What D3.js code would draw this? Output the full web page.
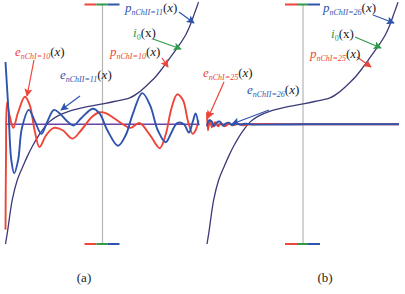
<!DOCTYPE html>
<html>
<head>
<meta charset="utf-8">
<script src="https://cdn.jsdelivr.net/npm/d3@7"></script>
<style>
  html, body { margin: 0; padding: 0; background: #fff; }
  svg { display: block; }
</style>
</head>
<body>
<div id="chart"></div>
<script>
// target curve i0(x) (the p approximations overlap it), shared by both panels
var pCurve = [[-1, -1], [-0.98, -0.9], [-0.93, -0.63], [-0.88, -0.47], [-0.82, -0.35], [-0.77, -0.26],
  [-0.72, -0.18], [-0.67, -0.11], [-0.62, -0.05], [-0.55, 0.02], [-0.46, 0.07], [-0.34, 0.11],
  [-0.19, 0.14], [0, 0.17], [0.12, 0.19], [0.28, 0.22], [0.38, 0.27], [0.45, 0.32], [0.54, 0.39],
  [0.62, 0.47], [0.71, 0.57], [0.79, 0.66], [0.86, 0.75], [0.9, 0.82], [0.95, 0.93], [0.99, 1.02]];

// panel (a) errors
var eChI10 = [[-1, -0.88], [-0.995, -0.3], [-0.985, 0.18], [-0.96, 0.08], [-0.92, -0.03], [-0.87, 0.1],
  [-0.8, 0.23], [-0.75, 0.16], [-0.7, -0.05], [-0.65, -0.19], [-0.58, -0.09], [-0.5, -0.03],
  [-0.41, -0.05], [-0.31, -0.12], [-0.22, -0.05], [-0.11, 0.06], [-0.03, 0.1], [0.04, 0.09],
  [0.12, 0.05], [0.21, 0], [0.29, -0.03], [0.38, 0.01], [0.49, -0.09], [0.59, -0.2], [0.65, -0.09],
  [0.71, 0.13], [0.77, 0.25], [0.83, 0.2], [0.88, 0.03], [0.93, -0.08], [0.96, -0.05], [0.99, 0.03]];
var eChII11 = [[-1, 0.52], [-0.97, 0.12], [-0.94, -0.3], [-0.91, -0.41], [-0.87, -0.3], [-0.83, -0.03],
  [-0.76, 0.12], [-0.7, 0.03], [-0.63, -0.08], [-0.57, 0.02], [-0.5, 0.12], [-0.44, 0.09],
  [-0.37, 0.03], [-0.3, -0.01], [-0.22, 0.05], [-0.1, 0.13], [-0.03, 0.09], [0.05, -0.05],
  [0.16, -0.18], [0.24, -0.09], [0.31, 0.08], [0.41, 0.26], [0.49, 0.16], [0.57, -0.05],
  [0.65, -0.15], [0.71, -0.07], [0.77, 0.01], [0.84, 0], [0.89, -0.07], [0.93, 0.02], [0.96, 0.09], [0.99, -0.01]];

// panel (b) errors
var eChI25 = [[-1, 0.1], [-0.99, -0.05], [-0.97, 0.033], [-0.948, -0.025], [-0.917, 0.017], [-0.885, -0.017],
  [-0.854, 0.008], [-0.813, -0.017], [-0.771, 0.004], [-0.729, -0.008], [-0.677, 0.004], [-0.625, -0.008],
  [-0.55, 0], [0, 0], [1, 0]];
var eChII26 = [[-1, -0.017], [-0.979, 0.033], [-0.953, 0.025], [-0.927, -0.017], [-0.896, 0.017], [-0.865, 0.021],
  [-0.833, -0.013], [-0.802, 0.008], [-0.771, 0.013], [-0.74, -0.008], [-0.698, 0.008], [-0.656, -0.004],
  [-0.604, 0.004], [-0.53, -0.002], [0, 0], [1, 0]];

var subsA = ["nChII=11", "nChI=10", "nChI=10", "nChII=11"];
var subsB = ["nChII=26", "nChI=25", "nChI=25", "nChII=26"];
var captions = ["(a)", "(b)"];

var W = 405, H = 294;
var RED = "#ee4538", BLUE = "#2f54ad", GREEN = "#2e9a4c", PURPLE = "#3d3a78", ZERO = "#6a45a8";

var svg = d3.select("#chart").append("svg").attr("width", W).attr("height", H);

var defs = svg.append("defs");
[["red", RED], ["blue", BLUE], ["green", GREEN]].forEach(function(c) {
  defs.append("marker")
      .attr("id", "arr-" + c[0])
      .attr("viewBox", "0 0 10 10")
      .attr("refX", 9).attr("refY", 5)
      .attr("markerWidth", 11).attr("markerHeight", 8)
      .attr("markerUnits", "userSpaceOnUse")
      .attr("orient", "auto")
    .append("path")
      .attr("d", "M0,0 L10,5 L0,10 L2,5 Z")
      .attr("fill", c[1]);
});

var y = d3.scaleLinear().domain([-1, 1]).range([244, 4.5]);

var panels = [
  { x: d3.scaleLinear().domain([-1, 1]).range([5.5, 199.5]), errs: [[eChI10, RED], [eChII11, BLUE]], subs: subsA,
    // label anchors and arrows in pixels
    labels: [[125, 12], [110, 56], [15, 56], [60, 79]], i0: [133, 37],
    arrows: [[[179, 12], [194, 23], "blue"], [[153, 39], [181, 49], "green"], [[162, 58], [168, 67], "red"],
             [[34, 60], [27, 96], "red"], [[80, 96], [61, 110], "blue"]],
    cap: [84, 282] },
  { x: d3.scaleLinear().domain([-1, 1]).range([207, 399]), errs: [[eChI25, RED], [eChII26, BLUE]], subs: subsB,
    labels: [[323, 12], [310, 58], [203, 77], [247, 94]], i0: [331, 38],
    arrows: [[[373, 15], [394, 23], "blue"], [[355, 37], [381, 48], "green"], [[357, 57], [371, 67], "red"],
             [[224, 82], [208, 118], "red"], [[269, 110], [232, 124], "blue"]],
    cap: [325, 282] }
];

var serif = "'Liberation Serif', 'DejaVu Serif', serif";

panels.forEach(function(p, pi) {
  var x = p.x;
  var g = svg.append("g");
  var cx = x(0);

  // vertical axis line with tri-colour end markers
  g.append("line").attr("x1", cx).attr("x2", cx).attr("y1", y(1)).attr("y2", y(-1))
      .attr("stroke", "#b5b5b5").attr("stroke-width", 1.2);
  [y(1), y(-1)].forEach(function(yy) {
    [[-18, -6, RED], [-6, 5, GREEN], [5, 17, BLUE]].forEach(function(s) {
      g.append("line").attr("x1", cx + s[0]).attr("x2", cx + s[1]).attr("y1", yy).attr("y2", yy)
          .attr("stroke", s[2]).attr("stroke-width", 2);
    });
  });

  var line = d3.line()
      .x(function(d) { return x(d[0]); })
      .y(function(d) { return y(d[1]); })
      .curve(d3.curveCatmullRom.alpha(0.5));

  // zero line
  g.append("line").attr("x1", x(-1)).attr("x2", x(1)).attr("y1", y(0)).attr("y2", y(0))
      .attr("stroke", ZERO).attr("stroke-width", 1.4);

  // target / approximations
  g.append("path").datum(pCurve).attr("d", line)
      .attr("fill", "none").attr("stroke", PURPLE).attr("stroke-width", 1.3);

  p.errs.forEach(function(e) {
    g.append("path").datum(e[0]).attr("d", line)
        .attr("fill", "none").attr("stroke", e[1]).attr("stroke-width", 1.9);
  });

  // arrows
  p.arrows.forEach(function(a) {
    var col = a[2] == "red" ? RED : a[2] == "blue" ? BLUE : GREEN;
    g.append("line").attr("x1", a[0][0]).attr("y1", a[0][1]).attr("x2", a[1][0]).attr("y2", a[1][1])
        .attr("stroke", col).attr("stroke-width", 1.2)
        .attr("marker-end", "url(#arr-" + a[2] + ")");
  });

  // labels: p (blue), p (red), e (red), e (blue)
  var letters = ["p", "p", "e", "e"];
  var cols = [BLUE, RED, RED, BLUE];
  p.labels.forEach(function(pos, i) {
    var t = g.append("text").attr("x", pos[0]).attr("y", pos[1])
        .attr("font-family", serif).attr("font-size", 13).attr("fill", cols[i]);
    t.append("tspan").attr("font-style", "italic").text(letters[i]);
    t.append("tspan").attr("font-style", "italic").attr("font-size", 8).attr("dy", 2.5).text(p.subs[i]);
    t.append("tspan").attr("dy", -2.5).attr("fill", "#222").text("(");
    t.append("tspan").attr("fill", "#222").attr("font-style", "italic").text("x");
    t.append("tspan").attr("fill", "#222").text(")");
  });

  var ti = g.append("text").attr("x", p.i0[0]).attr("y", p.i0[1])
      .attr("font-family", serif).attr("font-size", 13).attr("fill", GREEN);
  ti.append("tspan").attr("font-style", "italic").text("i");
  ti.append("tspan").attr("font-size", 8).attr("dy", 2.5).text("0");
  ti.append("tspan").attr("dy", -2.5).attr("fill", "#222").text("(x)");

  g.append("text").attr("x", p.cap[0]).attr("y", p.cap[1]).attr("text-anchor", "middle")
      .attr("font-family", serif).attr("font-size", 13).attr("fill", "#222").text(captions[pi]);
});
</script>
</body>
</html>
